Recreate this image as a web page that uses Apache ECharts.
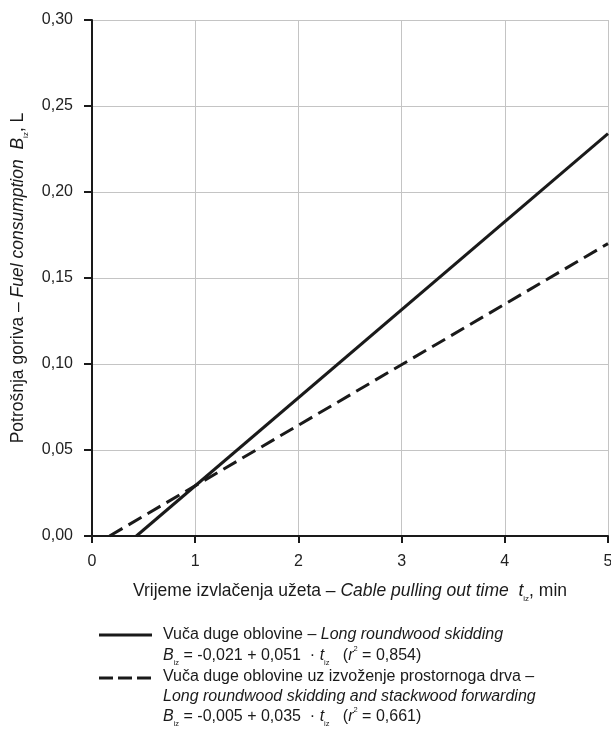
<!DOCTYPE html>
<html><head><meta charset="utf-8">
<script src="https://cdn.jsdelivr.net/npm/echarts@6/dist/echarts.min.js"></script>
<style>html,body{margin:0;padding:0;background:#fff}#c{width:611px;height:740px}</style>
</head><body><div id="c"></div>
<script>
// Data
const solidX = [0.43, 5];
const solidY = [0, 0.234];
const dashedX = [0.17, 5];
const dashedY = [0, 0.17];
const xTicks = [0, 1, 2, 3, 4, 5];
const yTicks = ['0,00', '0,05', '0,10', '0,15', '0,20', '0,25', '0,30'];
const seriesNames = ['Long roundwood skidding', 'Long roundwood skidding and stackwood forwarding'];

const FONT = 'Liberation Sans';
const INK = '#1a1a1a';
function makeRich(fs, ss) {
  return {
    n: { fontFamily: FONT, fontSize: fs, color: INK },
    i: { fontFamily: FONT, fontSize: fs, color: INK, fontStyle: 'italic' },
    sub: { fontFamily: FONT, fontSize: ss, color: INK, verticalAlign: 'bottom', padding: [0, 0, -3, 0] },
    sup: { fontFamily: FONT, fontSize: ss, color: INK, verticalAlign: 'top', padding: [-3, 0, 0, 0] }
  };
}
const richAxis = makeRich(17.5, 8);
const richLeg = makeRich(16, 7.5);

const chart = echarts.init(document.getElementById('c'), null, { renderer: 'canvas' });

function legendText(y, txt) {
  return { type: 'text', x: 163, y: y, style: { text: txt, rich: richLeg, font: '16px ' + FONT, fill: INK, verticalAlign: 'middle' } };
}

const option = {
  backgroundColor: '#fff',
  animation: false,
  grid: { left: 92, right: 3, top: 20, bottom: 204, containLabel: false, outerBoundsMode: 'none' },
  xAxis: {
    type: 'value', min: 0, max: 5, interval: 1,
    axisLine: { show: true, onZero: false, lineStyle: { color: INK, width: 2 } },
    axisTick: { show: true, length: 7, lineStyle: { color: INK, width: 2 } },
    axisLabel: { fontFamily: FONT, fontSize: 16, color: '#222', margin: 18,
      formatter: v => String(xTicks[v] !== undefined ? xTicks[v] : v) },
    splitLine: { show: true, lineStyle: { color: '#c4c4c4', width: 1 } },
    name: '{n|Vrijeme izvlačenja užeta – }{i|Cable pulling out time  t}{sub|iz}{n|, min}',
    nameLocation: 'middle', nameGap: 46,
    nameTextStyle: { rich: richAxis }
  },
  yAxis: {
    type: 'value', min: 0, max: 0.3, interval: 0.05,
    axisLine: { show: true, lineStyle: { color: INK, width: 2 } },
    axisTick: { show: true, length: 8, lineStyle: { color: INK, width: 2 } },
    axisLabel: { fontFamily: FONT, fontSize: 16, color: '#222', margin: 19,
      formatter: v => yTicks[Math.round(v / 0.05)] },
    splitLine: { show: true, lineStyle: { color: '#c4c4c4', width: 1 } },
    name: '{n|Potrošnja goriva – }{i|Fuel consumption  B}{sub|iz}{n|, L}',
    nameLocation: 'middle', nameGap: 65, nameRotate: 90,
    nameTextStyle: { rich: richAxis }
  },
  series: [
    { name: seriesNames[0], type: 'line', symbol: 'none', silent: true,
      data: solidX.map((x, k) => [x, solidY[k]]),
      lineStyle: { color: INK, width: 3 } },
    { name: seriesNames[1], type: 'line', symbol: 'none', silent: true,
      data: dashedX.map((x, k) => [x, dashedY[k]]),
      lineStyle: { color: INK, width: 3, type: [15, 7] } }
  ],
  graphic: [
    { type: 'line', shape: { x1: 99, y1: 635, x2: 152, y2: 635 }, style: { stroke: INK, lineWidth: 3 } },
    { type: 'line', shape: { x1: 99, y1: 678, x2: 152, y2: 678 }, style: { stroke: INK, lineWidth: 3, lineDash: [14, 5] } },
    legendText(635, '{n|Vuča duge oblovine – }{i|Long roundwood skidding}'),
    legendText(656, '{i|B}{sub|iz}{n| = -0,021 + 0,051  · }{i|t}{sub|iz}{n|   (}{i|r}{sup|2}{n| = 0,854)}'),
    legendText(677, '{n|Vuča duge oblovine uz izvoženje prostornoga drva –}'),
    legendText(697, '{i|Long roundwood skidding and stackwood forwarding}'),
    legendText(717, '{i|B}{sub|iz}{n| = -0,005 + 0,035  · }{i|t}{sub|iz}{n|   (}{i|r}{sup|2}{n| = 0,661)}')
  ]
};
chart.setOption(option);
</script>
</body></html>
